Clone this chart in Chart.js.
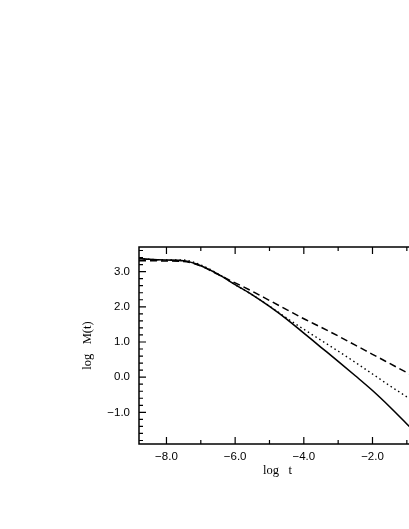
<!DOCTYPE html>
<html><head><meta charset="utf-8">
<script src="https://cdn.jsdelivr.net/npm/chart.js@4/dist/chart.umd.min.js"></script>
<style>html,body{margin:0;padding:0;background:#fff;overflow:hidden;width:409px;height:529px}canvas{display:block}</style>
</head><body><canvas id="c" width="430" height="529" style="width:430px;height:529px"></canvas>
<script>
const logT    = [-8.8, -8.5, -8.0, -7.5, -7.0, -6.5, -6.0, -5.5, -5.0, -4.5, -4.0, -3.5, -3.0, -2.5, -2.0, -1.5, -1.0, -0.9];
const solidM  = [3.37, 3.35, 3.33, 3.31, 3.17, 2.93, 2.63, 2.34, 2.01, 1.65, 1.25, 0.85, 0.45, 0.04, -0.38, -0.84, -1.33, -1.43];
const dottedM = [3.37, 3.35, 3.33, 3.33, 3.19, 2.94, 2.63, 2.34, 2.02, 1.68, 1.36, 1.05, 0.74, 0.42, 0.09, -0.24, -0.56, -0.62];
const dashedM = [3.31, 3.31, 3.30, 3.29, 3.16, 2.92, 2.68, 2.44, 2.18, 1.92, 1.66, 1.42, 1.17, 0.91, 0.65, 0.39, 0.13, 0.08];
const xTickValues = [-8, -6, -4, -2];
const yTickValues = [-1, 0, 1, 2, 3];
const xTitle = 'log   t';
const yTitle = 'log   M(t)';

const fmt = v => (v < 0 ? '\u2212' : '') + Math.abs(v).toFixed(1);
const pts = arr => logT.map((x, i) => ({x: x, y: arr[i]}));

const frame = {
  id: 'frame',
  afterDraw(chart) {
    const {ctx, chartArea: a, scales: {x, y}} = chart;
    ctx.save();
    ctx.strokeStyle = '#000';
    ctx.lineWidth = 1.5;
    ctx.strokeRect(a.left, a.top, a.right - a.left, a.bottom - a.top);
    ctx.lineWidth = 1.2;
    ctx.beginPath();
    for (let v = Math.ceil(x.min); v <= x.max; v += 1) {
      const p = x.getPixelForValue(v);
      const L = (v % 2 === 0) ? 7 : 4;
      ctx.moveTo(p, a.bottom); ctx.lineTo(p, a.bottom - L);
      ctx.moveTo(p, a.top); ctx.lineTo(p, a.top + L);
    }
    for (let i = Math.ceil(y.min * 5); i <= Math.floor(y.max * 5); i++) {
      const p = y.getPixelForValue(i / 5);
      const L = (i % 5 === 0) ? 7 : 4;
      ctx.moveTo(a.left, p); ctx.lineTo(a.left + L, p);
      ctx.moveTo(a.right, p); ctx.lineTo(a.right - L, p);
    }
    ctx.stroke();
    ctx.fillStyle = '#000';
    ctx.font = '12.5px "Liberation Serif"';
    ctx.textAlign = 'center';
    ctx.textBaseline = 'alphabetic';
    ctx.fillText(xTitle, (a.left + a.right) / 2 - 4, a.bottom + 30);
    ctx.translate(a.left - 48, (a.top + a.bottom) / 2);
    ctx.rotate(-Math.PI / 2);
    ctx.fillText(yTitle, 0, 0);
    ctx.restore();
  }
};

Chart.defaults.font.family = '"Liberation Sans", Arial, sans-serif';
new Chart(document.getElementById('c'), {
  type: 'line',
  data: {
    datasets: [
      {data: pts(solidM), borderColor: '#000', borderWidth: 1.6, pointRadius: 0, cubicInterpolationMode: 'monotone'},
      {data: pts(dottedM), borderColor: '#000', borderWidth: 1.4, borderDash: [1.5, 3], pointRadius: 0, cubicInterpolationMode: 'monotone'},
      {data: pts(dashedM), borderColor: '#000', borderWidth: 1.5, borderDash: [7, 4], pointRadius: 0, cubicInterpolationMode: 'monotone'}
    ]
  },
  options: {
    responsive: false,
    animation: false,
    layout: {padding: {top: 247, right: 6, left: 0, bottom: 0}},
    plugins: {legend: {display: false}, tooltip: {enabled: false}},
    scales: {
      x: {
        type: 'linear', min: -8.8, max: -0.5,
        grid: {display: false, drawTicks: false}, border: {display: false},
        afterBuildTicks: s => { s.ticks = xTickValues.map(v => ({value: v})); },
        afterFit: s => { s.height = 85; },
        ticks: {padding: 6, color: '#000', font: {size: 11.5}, maxRotation: 0, callback: v => fmt(v)}
      },
      y: {
        type: 'linear', min: -1.9, max: 3.7,
        grid: {display: false, drawTicks: false}, border: {display: false},
        afterBuildTicks: s => { s.ticks = yTickValues.map(v => ({value: v})); },
        afterFit: s => { s.width = 139; },
        ticks: {padding: 9, color: '#000', font: {size: 11.5}, callback: v => fmt(v)}
      }
    }
  },
  plugins: [frame]
});
</script></body></html>
